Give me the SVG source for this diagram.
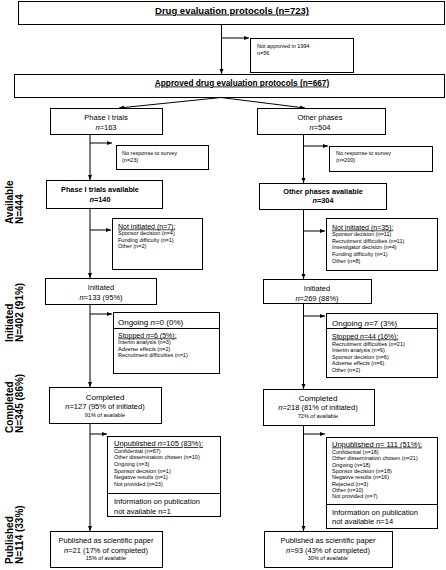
<svg xmlns="http://www.w3.org/2000/svg" width="446" height="570" viewBox="0 0 446 570">
<defs>
<marker id="a" viewBox="0 0 10 10" refX="10" refY="5" markerWidth="5" markerHeight="5" orient="auto" markerUnits="userSpaceOnUse"><path d="M0,1 L10,5 L0,9 z" fill="#000"/></marker>
</defs>
<style>
text{font-family:"Liberation Sans",Arial,sans-serif;fill:#000}
.box{fill:#fff;stroke:#000;stroke-width:1}
.c{text-anchor:middle}
.b{font-weight:bold}
.u{text-decoration:underline}
.t8{font-size:8px}
.t75{font-size:7.5px}
.t7{font-size:7px}
.s{font-size:5.5px}
.lbl{font-size:10px;font-weight:bold}
.ln{fill:none;stroke:#000;stroke-width:1}
.ar{fill:none;stroke:#000;stroke-width:1;marker-end:url(#a)}
</style>
<rect width="446" height="570" fill="#fff"/>
<g id="connectors">
<line class="ar" x1="221.5" y1="24.5" x2="221.5" y2="74"/>
<line class="ar" x1="221.5" y1="38" x2="249" y2="38"/>
<line class="ar" x1="221" y1="97.5" x2="119" y2="108"/>
<line class="ar" x1="221" y1="97.5" x2="305" y2="108"/>
<line class="ar" x1="90" y1="134.5" x2="90" y2="180"/>
<line class="ar" x1="90" y1="143" x2="112" y2="143"/>
<line class="ar" x1="90" y1="208.5" x2="90" y2="278"/>
<line class="ar" x1="90" y1="230" x2="111" y2="230"/>
<line class="ar" x1="90" y1="304.5" x2="90" y2="387"/>
<line class="ar" x1="90" y1="314" x2="112" y2="314"/>
<line class="ar" x1="90" y1="423.5" x2="90" y2="531"/>
<line class="ar" x1="90" y1="434" x2="107" y2="434"/>
<line class="ar" x1="303.5" y1="134.5" x2="303.5" y2="183"/>
<line class="ar" x1="303.5" y1="146" x2="328" y2="146"/>
<line class="ar" x1="303.5" y1="209.5" x2="303.5" y2="279"/>
<line class="ar" x1="303.5" y1="231" x2="325" y2="231"/>
<line class="ar" x1="303.5" y1="303.5" x2="303.5" y2="389"/>
<line class="ar" x1="303.5" y1="316" x2="325" y2="316"/>
<line class="ar" x1="303.5" y1="425.5" x2="303.5" y2="531"/>
<line class="ar" x1="303.5" y1="434" x2="325" y2="434"/>
</g>
<g id="n-top"><rect class="box" x="18.5" y="1.5" width="426" height="23"/><text class="c b u" x="232" y="13.5" font-size="9.5">Drug evaluation protocols (n=723)</text></g>
<g id="n-notapproved"><rect class="box" x="250.5" y="38.5" width="103" height="34"/><text class="s" x="257" y="48">Not approved in 1994</text><text class="s" x="257" y="54.5">n=56</text></g>
<g id="n-approved"><rect class="box" x="14.5" y="74.5" width="430" height="23"/><text class="c b u" x="242" y="85.5" font-size="8.3">Approved drug evaluation protocols (n=667)</text></g>
<g id="n-phase1"><rect class="box" x="50.5" y="108.5" width="112" height="26"/><text class="c t75" x="106" y="120">Phase I trials</text><text class="c t75" x="106" y="129.5"><tspan font-style="italic">n</tspan>=163</text></g>
<g id="n-noresp1"><rect class="box" x="116.5" y="145.5" width="92" height="24"/><text class="s" x="122" y="155">No response to survey</text><text class="s" x="122" y="162">(n=23)</text></g>
<g id="n-phase1avail"><rect class="box" x="46.5" y="180.5" width="116" height="28"/><text class="c b" x="100" y="192" font-size="7.3">Phase I trials available</text><text class="c b" x="100" y="202" font-size="7.3"><tspan font-style="italic">n</tspan>=140</text></g>
<g id="n-notinit1"><rect class="box" x="112.5" y="218.5" width="90" height="51"/><text class="t7 u" x="118" y="228.5">Not initiated (n=7):</text><text class="s" x="118" y="235">Sponsor decision (n=4)</text><text class="s" x="118" y="241.5">Funding difficulty (n=1)</text><text class="s" x="118" y="248">Other (n=2)</text></g>
<g id="n-init1"><rect class="box" x="45.5" y="278.5" width="111" height="26"/><text class="c t75" x="101" y="290">Initiated</text><text class="c t75" x="101" y="300"><tspan font-style="italic">n</tspan>=133 (95%)</text></g>
<g id="n-ongoing1"><rect class="box" x="113.5" y="312.5" width="106" height="61"/><line class="ln" x1="113.5" y1="328.5" x2="219.5" y2="328.5"/><text class="t8" x="118" y="325"><tspan>Ongoing </tspan><tspan font-style="italic">n</tspan>=0 (0%)</text><text class="t7 u" x="118" y="337.5">Stopped <tspan font-style="italic">n</tspan>=6 (5%):</text><text class="s" x="118" y="344">Interim analysis (n=3)</text><text class="s" x="118" y="350.5">Adverse effects (n=2)</text><text class="s" x="118" y="357">Recruitment difficulties (n=1)</text></g>
<g id="n-compl1"><rect class="box" x="49.5" y="387.5" width="112" height="36"/><text class="c t8" x="105" y="400">Completed</text><text class="c t75" x="105" y="409"><tspan font-style="italic">n</tspan>=127 (95% of initiated)</text><text class="c s" x="105" y="416.5">91% of available</text></g>
<g id="n-unpub1"><rect class="box" x="107.5" y="436.5" width="113" height="80"/><line class="ln" x1="107.5" y1="493.5" x2="220.5" y2="493.5"/><text class="t75 u" x="114" y="446">Unpublished <tspan font-style="italic">n</tspan>=105 (83%):</text><text class="s" x="114" y="452.5">Confidential (n=67)</text><text class="s" x="114" y="459.2">Other dissemination chosen (n=10)</text><text class="s" x="114" y="465.9">Ongoing (n=3)</text><text class="s" x="114" y="472.6">Sponsor decision (n=1)</text><text class="s" x="114" y="479.3">Negative results (n=1)</text><text class="s" x="114" y="486">Not provided (n=23)</text><text class="t75" x="114" y="503.5">Information on publication</text><text class="t75" x="114" y="513.5">not available n=1</text></g>
<g id="n-pub1"><rect class="box" x="50.5" y="531.5" width="112" height="36"/><text class="c t75" x="106" y="543">Published as scientific paper</text><text class="c t75" x="106" y="552.5"><tspan font-style="italic">n</tspan>=21 (17% of completed)</text><text class="c s" x="106" y="560">15% of available</text></g>
<g id="n-other"><rect class="box" x="257.5" y="108.5" width="128" height="26"/><text class="c t75" x="320" y="120">Other phases</text><text class="c t75" x="320" y="129.5"><tspan font-style="italic">n</tspan>=504</text></g>
<g id="n-noresp2"><rect class="box" x="329.5" y="146.5" width="103" height="25"/><text class="s" x="336" y="154.5">No response to survey</text><text class="s" x="336" y="162">(n=200)</text></g>
<g id="n-otheravail"><rect class="box" x="259.5" y="183.5" width="127" height="26"/><text class="c b" x="323" y="193.5" font-size="7.3">Other phases available</text><text class="c b" x="323" y="203" font-size="7.3"><tspan font-style="italic">n</tspan>=304</text></g>
<g id="n-notinit2"><rect class="box" x="326.5" y="218.5" width="111" height="52"/><text class="t7 u" x="332" y="229.5">Not initiated (n=35):</text><text class="s" x="332" y="236">Sponsor decision (n=11)</text><text class="s" x="332" y="242.7">Recruitment difficulties (n=11)</text><text class="s" x="332" y="249.4">Investigator decision (n=4)</text><text class="s" x="332" y="256.1">Funding difficulty (n=1)</text><text class="s" x="332" y="262.8">Other (n=8)</text></g>
<g id="n-init2"><rect class="box" x="263.5" y="279.5" width="108" height="24"/><text class="c t75" x="317" y="290.5">Initiated</text><text class="c t75" x="317" y="300.5"><tspan font-style="italic">n</tspan>=269 (88%)</text></g>
<g id="n-ongoing2"><rect class="box" x="326.5" y="313.5" width="111" height="64"/><line class="ln" x1="326.5" y1="328.5" x2="437.5" y2="328.5"/><text class="t8" x="332" y="326"><tspan>Ongoing </tspan><tspan font-style="italic">n</tspan>=7 (3%)</text><text class="t7 u" x="332" y="338.5">Stopped <tspan font-style="italic">n</tspan>=44 (16%):</text><text class="s" x="332" y="345.5">Recruitment difficulties (n=21)</text><text class="s" x="332" y="352">Interim analysis (n=9)</text><text class="s" x="332" y="358.5">Sponsor decision (n=6)</text><text class="s" x="332" y="365">Adverse effects (n=6)</text><text class="s" x="332" y="371.5">Other (n=2)</text></g>
<g id="n-compl2"><rect class="box" x="263.5" y="389.5" width="111" height="36"/><text class="c t8" x="318" y="400.5">Completed</text><text class="c t75" x="318" y="410"><tspan font-style="italic">n</tspan>=218 (81% of initiated)</text><text class="c s" x="318" y="417.5">72% of available</text></g>
<g id="n-unpub2"><rect class="box" x="326.5" y="437.5" width="111" height="91"/><line class="ln" x1="326.5" y1="504.5" x2="437.5" y2="504.5"/><text class="t75 u" x="332" y="446.5">Unpublished <tspan font-style="italic">n</tspan>= 111 (51%):</text><text class="s" x="332" y="454">Confidential (n=18)</text><text class="s" x="332" y="460.3">Other dissemination chosen (n=21)</text><text class="s" x="332" y="466.6">Ongoing (n=18)</text><text class="s" x="332" y="472.9">Sponsor decision (n=18)</text><text class="s" x="332" y="479.2">Negative results (n=16)</text><text class="s" x="332" y="485.5">Rejected (n=3)</text><text class="s" x="332" y="491.8">Other (n=10)</text><text class="s" x="332" y="498.1">Not provided (n=7)</text><text class="t75" x="332" y="514.5">Information on publication</text><text class="t75" x="332" y="524">not available n=14</text></g>
<g id="n-pub2"><rect class="box" x="264.5" y="531.5" width="128" height="36"/><text class="c t75" x="328" y="543">Published as scientific paper</text><text class="c t75" x="328" y="552.5"><tspan font-style="italic">n</tspan>=93 (43% of completed)</text><text class="c s" x="328" y="560">30% of available</text></g>
<g id="labels">
<g transform="translate(13,224) rotate(-90)"><text class="lbl" x="0" y="0">Available</text><text class="lbl" x="0" y="10">N=444</text></g>
<g transform="translate(13,342) rotate(-90)"><text class="lbl" x="0" y="0">Initiated</text><text class="lbl" x="0" y="10">N=402 (91%)</text></g>
<g transform="translate(13,433) rotate(-90)"><text class="lbl" x="0" y="0">Completed</text><text class="lbl" x="0" y="10">N=345 (86%)</text></g>
<g transform="translate(13,564) rotate(-90)"><text class="lbl" x="0" y="0">Published</text><text class="lbl" x="0" y="10">N=114 (33%)</text></g>
</g>
</svg>
